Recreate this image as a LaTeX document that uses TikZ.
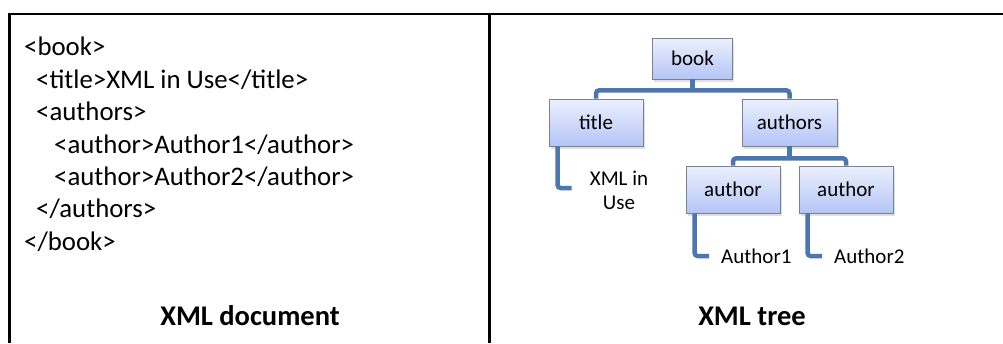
\documentclass[tikz,border=0pt]{standalone}
\usepackage{fontspec}
\setmainfont{Carlito}
\usepackage{tikz}
\usetikzlibrary{calc, positioning, shadows}

\definecolor{boxtop}{RGB}{236,240,253}
\definecolor{boxbot}{RGB}{180,197,246}
\definecolor{boxline}{RGB}{120,130,145}
\definecolor{branchblue}{RGB}{76,118,175}

\tikzset{
  xmlbox/.style={draw=boxline, line width=0.8pt, top color=boxtop, bottom color=boxbot,
    minimum width=94pt, minimum height=47pt, inner sep=0pt,
    font=\fontsize{21}{24}\selectfont,
    drop shadow={opacity=0.25, shadow xshift=1.5pt, shadow yshift=-2.5pt}},
  branch/.style={draw=branchblue, line width=4.5pt, rounded corners=3pt},
  leaftext/.style={font=\fontsize{21}{24}\selectfont, inner sep=3pt},
  caption/.style={font=\fontsize{28.5}{32}\selectfont\bfseries}
}

\begin{document}
\begin{tikzpicture}[x=1pt, y=-1pt]
        \useasboundingbox (0,0) rectangle (1003,343);

        % frame
        \draw[line width=2.6pt] (9.7,343) -- (9.7,13.8) -- (1003,13.8);
        \draw[line width=2.6pt] (489.7,13.8) -- (489.7,343);

        % XML document
        \node[anchor=north west, align=left, inner sep=0pt,
              font=\fontsize{26.8}{32.4}\selectfont] (doc) at (24,37)
             {<book>\\
              \hspace*{12pt}<title>XML in Use</title>\\
              \hspace*{12pt}<authors>\\
              \hspace*{30pt}<author>Author1</author>\\
              \hspace*{30pt}<author>Author2</author>\\
              \hspace*{12pt}</authors>\\
              </book>};
        \node[caption] (doccap) at (250,316) {XML document};

        % XML tree
        \node[xmlbox, minimum width=80pt, minimum height=41pt] (book) at (692.5,58.5) {book};
        \node[xmlbox] (title) at (596,122.5) {title};
        \node[xmlbox, minimum width=95pt] (authors) at (789.5,122.5) {authors};
        \node[xmlbox] (author1) at (733,189.5) {author};
        \node[xmlbox] (author2) at (846,189.5) {author};

        \node[leaftext, align=center] (usetxt) at (619,190) {XML in\\Use};
        \node[leaftext, anchor=west] (auth1txt) at (718,256) {Author1};
        \node[leaftext, anchor=west] (auth2txt) at (831,256) {Author2};

        \draw[branch] (book.south) -- ++(0,11) coordinate (bookbar);
        \draw[branch] (title.north) |- (bookbar) -| (authors.north);
        \draw[branch] (authors.south) -- ++(0,12) coordinate (authbar);
        \draw[branch] (author1.north) |- (authbar) -| (author2.north);

        \draw[branch] ([xshift=9pt]title.south west) |- ([xshift=-15pt,yshift=2pt]usetxt.west);
        \draw[branch] ([xshift=9pt]author1.south west) |- ([xshift=-9pt]auth1txt.west);
        \draw[branch] ([xshift=9pt]author2.south west) |- ([xshift=-9pt]auth2txt.west);

        \node[caption] (treecap) at (752,316) {XML tree};
\end{tikzpicture}
\end{document}
